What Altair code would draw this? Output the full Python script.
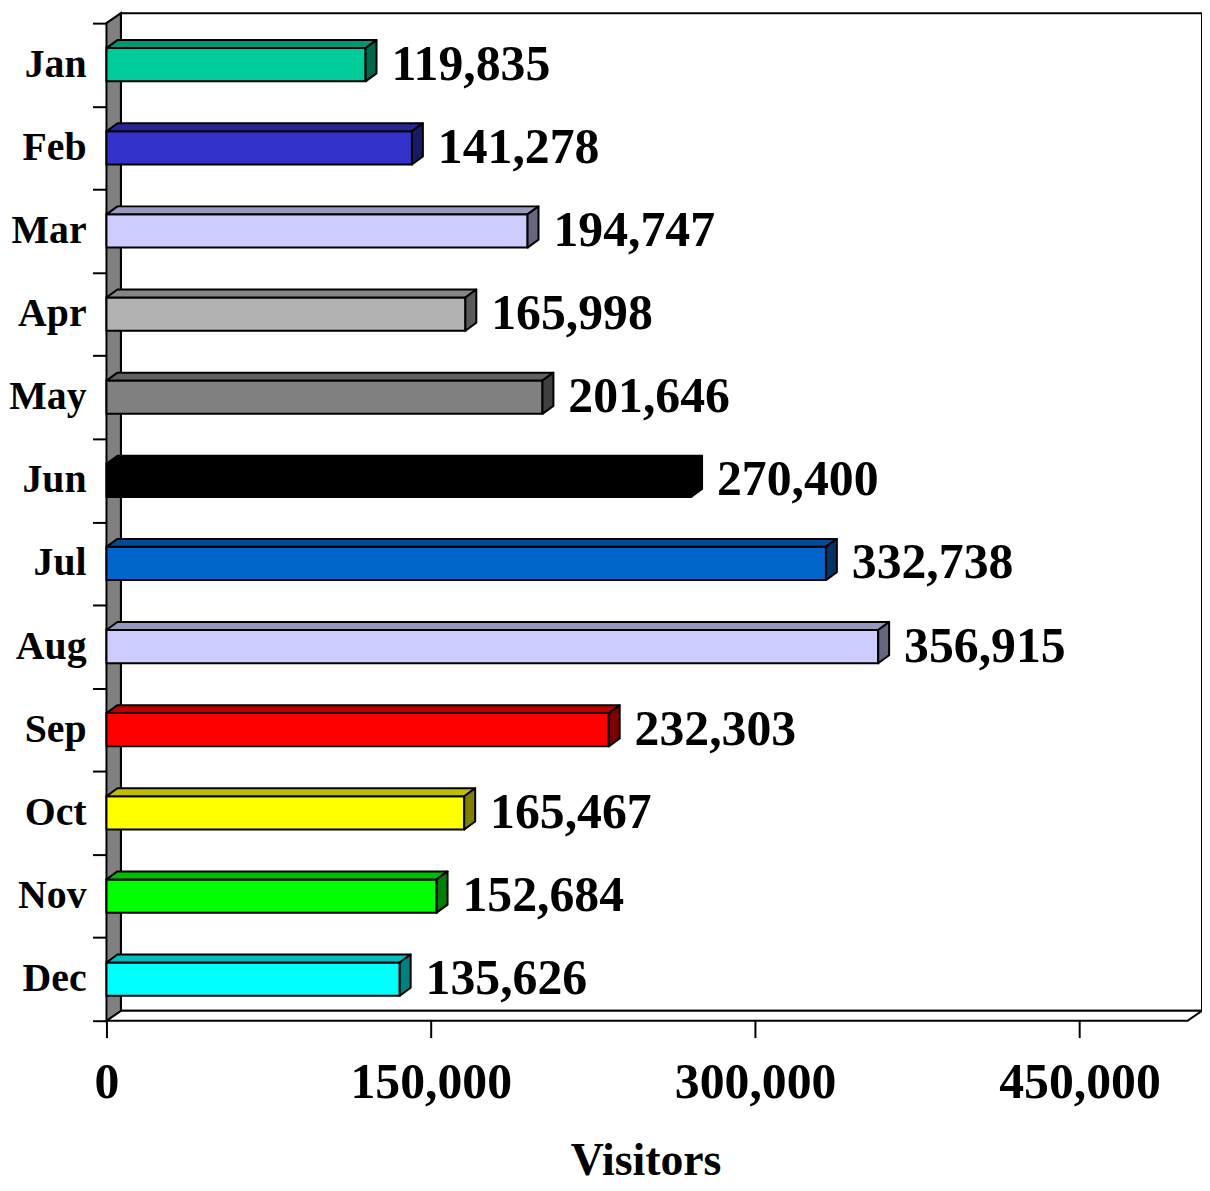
import altair as alt
import pandas as pd

# ---------------- data ----------------
months = ["Jan", "Feb", "Mar", "Apr", "May", "Jun",
          "Jul", "Aug", "Sep", "Oct", "Nov", "Dec"]
visitors = [119835, 141278, 194747, 165998, 201646, 270400,
            332738, 356915, 232303, 165467, 152684, 135626]
colors = ["#00CC99", "#3333CC", "#CCCCFF", "#B2B2B2", "#808080", "#000000",
          "#0066CC", "#CCCCFF", "#FF0000", "#FFFF00", "#00FF00", "#00FFFF"]
x_ticks = [0, 150000, 300000, 450000]
x_max = 500000
axis_title = "Visitors"

# ---------------- geometry (pixels) ----------------
FRONT_W = 1087.0          # pixels for 0..x_max on the front edge
BAND_PX = 1003.0 / 12     # pixels per category band
WALL_DX, WALL_DY = 14.5, 10.0   # 3D depth of the walls
BAR_DX, BAR_DY = 11.0, 8.0      # 3D depth of the bars
BAR_H = 0.4               # bar thickness in band units
FONT = "Liberation Serif"

n = len(months)
k = FRONT_W / x_max
wdx = WALL_DX / k
wdy = WALL_DY / BAND_PX
bdx = BAR_DX / k
bdy = BAR_DY / BAND_PX
x_dom = [0, x_max + wdx]
y_dom = [0, n + wdy]
PLOT_W = x_dom[1] * k
PLOT_H = y_dom[1] * BAND_PX

xs = alt.Scale(domain=x_dom, nice=False, zero=False)
ys = alt.Scale(domain=y_dom, nice=False, zero=False)

x_axis = alt.Axis(values=x_ticks, format=",.0f", domain=False, grid=False,
                  tickSize=17, tickWidth=2, tickColor="black",
                  labelFont=FONT, labelFontSize=50, labelFontWeight="bold",
                  labelColor="black", labelPadding=20, labelFlush=False,
                  title=axis_title, titleFont=FONT, titleFontSize=46,
                  titleFontWeight="bold", titleColor="black",
                  titleX=542, titleY=155, titleAlign="center",
                  titleBaseline="alphabetic")
y_axis = alt.Axis(values=list(range(n + 1)), labels=False, domain=False,
                  grid=False, tickSize=14, tickWidth=2,
                  tickColor="black", title=None)


def shade(hexcol, f):
    h = hexcol.lstrip("#")
    r, g, b = (int(h[i:i + 2], 16) for i in (0, 2, 4))
    return "#{:02X}{:02X}{:02X}".format(int(r * f), int(g * f), int(b * f))


centers = [n - 0.5 - i for i in range(n)]

front_rows, top_rows, side_rows = [], [], []
for m, v, c, col in zip(months, visitors, centers, colors):
    lo, hi = c - BAR_H / 2, c + BAR_H / 2
    front_rows.append(dict(m=m, x=0, x2=v, y=lo, y2=hi, fill=col, c=c, v=v))
    tcol = shade(col, 0.75)
    for xx, yy, yy2 in [(0, hi, hi), (bdx, hi + bdy, hi), (v, hi + bdy, hi),
                        (v + bdx, hi + bdy, hi + bdy)]:
        top_rows.append(dict(m=m, x=xx, y=yy, y2=yy2, fill=tcol))
    scol = shade(col, 0.5)
    for yy, xx, xx2 in [(lo, v, v), (lo + bdy, v, v + bdx), (hi, v, v + bdx),
                        (hi + bdy, v + bdx, v + bdx)]:
        side_rows.append(dict(m=m, y=yy, x=xx, x2=xx2, fill=scol))

front_df = pd.DataFrame(front_rows)
top_df = pd.DataFrame(top_rows)
side_df = pd.DataFrame(side_rows)

# walls
back_df = pd.DataFrame([dict(x=wdx, x2=x_max + wdx, y=wdy, y2=n + wdy)])
floor_df = pd.DataFrame([dict(x=0, y=0, y2=0), dict(x=wdx, y=wdy, y2=0),
                         dict(x=x_max, y=wdy, y2=0),
                         dict(x=x_max + wdx, y=wdy, y2=wdy)])
left_df = pd.DataFrame([dict(y=0, x=0, x2=0), dict(y=wdy, x=0, x2=wdx),
                        dict(y=n, x=0, x2=wdx),
                        dict(y=n + wdy, x=wdx, x2=wdx)])

SW = 2

back = alt.Chart(back_df).mark_rect(fill="white", stroke="black", strokeWidth=SW).encode(
    x=alt.X("x:Q", scale=xs, axis=x_axis),
    x2="x2",
    y=alt.Y("y:Q", scale=ys, axis=y_axis),
    y2="y2",
)

floor = alt.Chart(floor_df).mark_area(fill="white", stroke="black", strokeWidth=SW).encode(
    x=alt.X("x:Q", scale=xs, axis=x_axis),
    y=alt.Y("y:Q", scale=ys, axis=y_axis, stack=None),
    y2="y2",
)

left = alt.Chart(left_df).mark_area(orient="horizontal", fill="#808080",
                                    stroke="black", strokeWidth=SW).encode(
    y=alt.Y("y:Q", scale=ys, axis=y_axis),
    x=alt.X("x:Q", scale=xs, axis=x_axis, stack=None),
    x2="x2",
)

fronts = alt.Chart(front_df).mark_rect(stroke="black", strokeWidth=SW).encode(
    x=alt.X("x:Q", scale=xs, axis=x_axis),
    x2="x2",
    y=alt.Y("y:Q", scale=ys, axis=y_axis),
    y2="y2",
    fill=alt.Fill("fill:N", scale=None),
)

tops = alt.Chart(top_df).mark_area(stroke="black", strokeWidth=SW,
                                   strokeJoin="round").encode(
    x=alt.X("x:Q", scale=xs, axis=x_axis),
    y=alt.Y("y:Q", scale=ys, axis=y_axis, stack=None),
    y2="y2",
    detail="m:N",
    fill=alt.Fill("fill:N", scale=None),
)

sides = alt.Chart(side_df).mark_area(orient="horizontal", stroke="black",
                                     strokeWidth=SW, strokeJoin="round").encode(
    y=alt.Y("y:Q", scale=ys, axis=y_axis),
    x=alt.X("x:Q", scale=xs, axis=x_axis, stack=None),
    x2="x2",
    detail="m:N",
    fill=alt.Fill("fill:N", scale=None),
)

values = alt.Chart(front_df).mark_text(
    align="left", baseline="middle", dx=BAR_DX + 15, dy=0, font=FONT,
    fontSize=50, fontWeight="bold", color="black",
).encode(
    x=alt.X("v:Q", scale=xs, axis=x_axis),
    y=alt.Y("c:Q", scale=ys, axis=y_axis),
    text=alt.Text("v:Q", format=",.0f"),
)

cats = alt.Chart(front_df).mark_text(
    align="right", baseline="middle", dy=0, font=FONT, fontSize=40,
    fontWeight="bold", color="black",
).encode(
    x=alt.value(-20),
    y=alt.Y("c:Q", scale=ys, axis=y_axis),
    text="m:N",
)

chart = alt.layer(back, floor, left, fronts, tops, sides, values, cats).properties(
    width=PLOT_W, height=PLOT_H,
    autosize=alt.AutoSizeParams(type="none"),
    padding={"left": 99, "top": 2, "right": 0, "bottom": 167},
    background="white",
).configure_view(strokeWidth=0)

chart.save("out.html", embed_options={"renderer": "svg", "actions": False})
